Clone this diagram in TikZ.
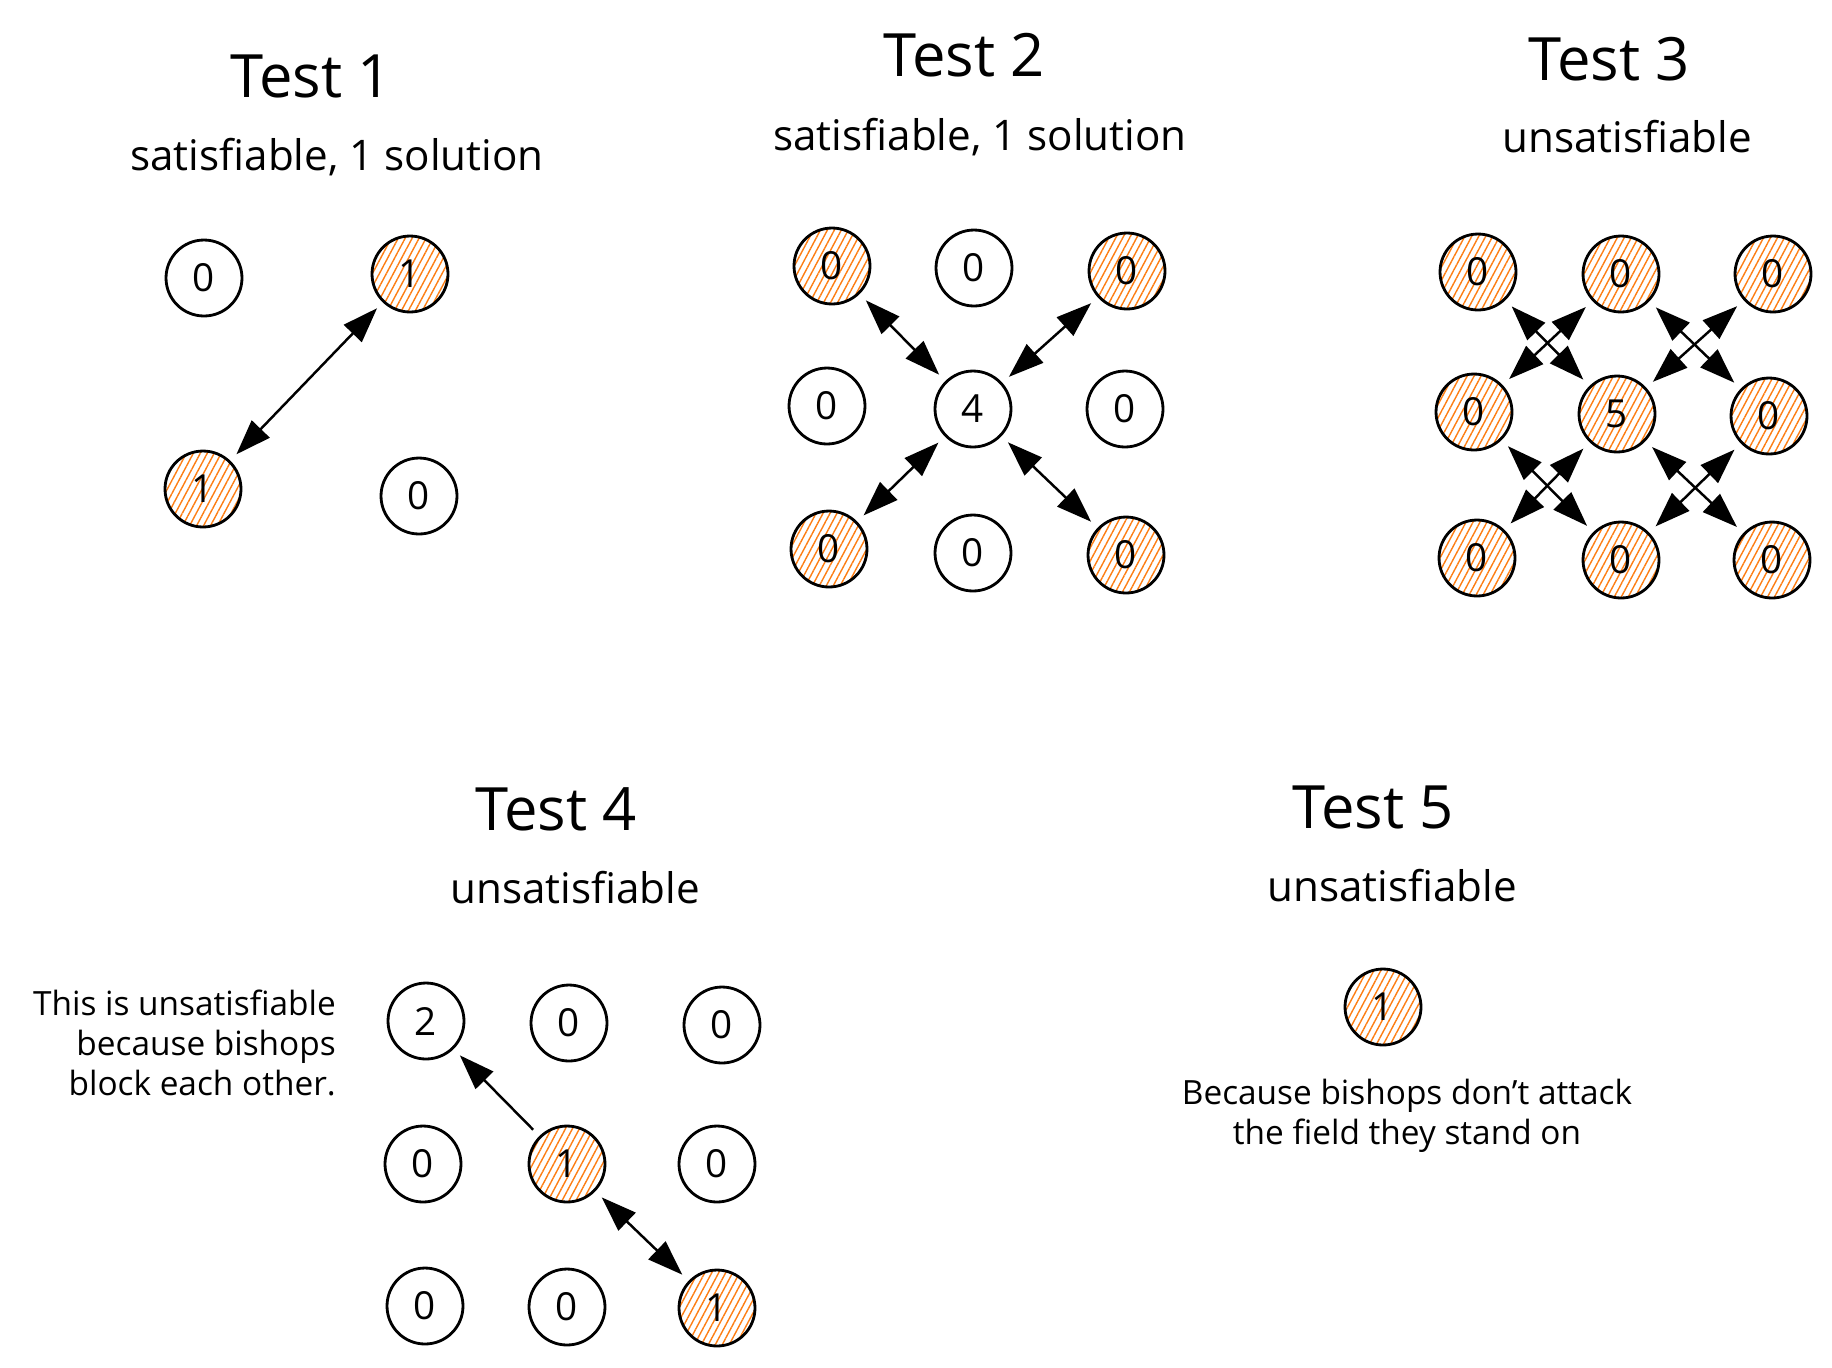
\documentclass[tikz,border=0pt]{standalone}
\usepackage{fontspec}
\setmainfont{Open Sans}
\usepackage{xcolor}
\definecolor{hatch}{RGB}{253, 126, 20}
\usepackage{tikz}
\usetikzlibrary{shapes, arrows.meta, patterns.meta}
\tikzstyle{cell} = [circle, draw, line width=1.6pt, minimum size=1.52cm, inner sep=0pt, font=\fontsize{22}{24}\selectfont]
\tikzstyle{bishop} = [cell, pattern={Lines[angle=62, distance=3.5pt, line width=0.8pt]}, pattern color=hatch]
\tikzstyle{arrow} = [line width=1.4pt, <->, >={Triangle[length=20pt, width=14pt]}, shorten >=5pt, shorten <=5pt]
\tikzstyle{title} = [font=\fontsize{34}{40}\selectfont]
\tikzstyle{subtitle} = [font=\fontsize{24}{28}\selectfont]
\tikzstyle{note} = [font=\fontsize{19}{23}\selectfont]

\begin{document}
\begin{tikzpicture}[x=0.02cm, y=-0.02cm]
    \useasboundingbox (0,0) rectangle (1832,1367);

    % Test 1
    \node[title] (head1) at (311,76) {Test 1};
    \node[subtitle] (sub1) at (337,157) {satisfiable, 1 solution};
    \node[cell] (t1a) at (204,278) {0};
    \node[bishop] (t1b) at (410,274) {1};
    \node[bishop] (t1c) at (203,489) {1};
    \node[cell] (t1d) at (419,496) {0};
    \draw[arrow] (t1b) -- (t1c);

    % Test 2
    \node[title] (head2) at (964,55) {Test 2};
    \node[subtitle] (sub2) at (980,137) {satisfiable, 1 solution};
    \node[bishop] (t2nw) at (832,266) {0};
    \node[cell] (t2n) at (974,268) {0};
    \node[bishop] (t2ne) at (1127,271) {0};
    \node[cell] (t2w) at (827,406) {0};
    \node[cell] (t2c) at (973,409) {4};
    \node[cell] (t2e) at (1125,409) {0};
    \node[bishop] (t2sw) at (829,549) {0};
    \node[cell] (t2s) at (973,553) {0};
    \node[bishop] (t2se) at (1126,555) {0};
    \draw[arrow] (t2nw) -- (t2c);
    \draw[arrow] (t2ne) -- (t2c);
    \draw[arrow] (t2c) -- (t2sw);
    \draw[arrow] (t2c) -- (t2se);

    % Test 3
    \node[title] (head3) at (1609,59) {Test 3};
    \node[subtitle] (sub3) at (1627,137) {unsatisfiable};
    \node[bishop] (t3nw) at (1478,272) {0};
    \node[bishop] (t3n) at (1621,274) {0};
    \node[bishop] (t3ne) at (1773,274) {0};
    \node[bishop] (t3w) at (1474,412) {0};
    \node[bishop] (t3c) at (1617,414) {5};
    \node[bishop] (t3e) at (1769,416) {0};
    \node[bishop] (t3sw) at (1477,558) {0};
    \node[bishop] (t3s) at (1621,560) {0};
    \node[bishop] (t3se) at (1772,560) {0};
    \draw[arrow] (t3nw) -- (t3c);
    \draw[arrow] (t3n) -- (t3w);
    \draw[arrow] (t3n) -- (t3e);
    \draw[arrow] (t3ne) -- (t3c);
    \draw[arrow] (t3w) -- (t3s);
    \draw[arrow] (t3c) -- (t3sw);
    \draw[arrow] (t3c) -- (t3se);
    \draw[arrow] (t3e) -- (t3s);

    % Test 4
    \node[title] (head4) at (556,809) {Test 4};
    \node[subtitle] (sub4) at (575,888) {unsatisfiable};
    \node[note, align=right, anchor=east] (why4) at (342,1043) {This is unsatisfiable\\because bishops\\block each other.};
    \node[cell] (t4nw) at (426,1021) {2};
    \node[cell] (t4n) at (569,1023) {0};
    \node[cell] (t4ne) at (722,1025) {0};
    \node[cell] (t4w) at (423,1164) {0};
    \node[bishop] (t4c) at (567,1164) {1};
    \node[cell] (t4e) at (717,1164) {0};
    \node[cell] (t4sw) at (425,1306) {0};
    \node[cell] (t4s) at (567,1307) {0};
    \node[bishop] (t4se) at (717,1308) {1};
    \draw[arrow, <-] (t4nw) -- (t4c);
    \draw[arrow] (t4c) -- (t4se);

    % Test 5
    \node[title] (head5) at (1373,807) {Test 5};
    \node[subtitle] (sub5) at (1392,886) {unsatisfiable};
    \node[bishop] (t5) at (1383,1007) {1};
    \node[note, align=center] (why5) at (1407,1116) {Because bishops don't attack\\the field they stand on};
\end{tikzpicture}
\end{document}
